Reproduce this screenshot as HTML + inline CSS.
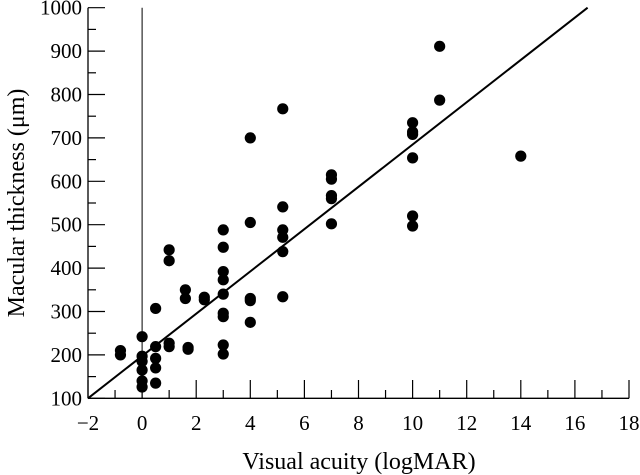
<!DOCTYPE html>
<html><head><meta charset="utf-8"><style>
html,body{margin:0;padding:0;background:#fff;}
svg{display:block;font-family:"Liberation Serif",serif;}
</style></head><body>
<svg id="chart" width="640" height="475"></svg>
<script>
const xVals=[-0.8,-0.8,0,0,0,0,0,0,0.5,0.5,0.5,0.5,0.5,1,1,1,1,1.6,1.6,1.7,1.7,2.3,2.3,3,3,3,3,3,3,3,3,3,4,4,4,4,4,5.2,5.2,5.2,5.2,5.2,5.2,7,7,7,7,7,10,10,10,10,10,10,11,11,14];
const yVals=[210,200,242,197,185,165,140,126,307,219,192,170,135,442,417,227,219,350,330,217,213,333,327,488,448,392,373,340,296,288,223,202,700,505,330,325,275,767,541,488,471,438,334,615,605,567,560,502,735,714,708,654,520,497,911,787,658];
const xTicks=[-2,0,2,4,6,8,10,12,14,16,18];
const yTicks=[100,200,300,400,500,600,700,800,900,1000];
const fitLine=[[-2,100],[16.47,1000]];
const NS="http://www.w3.org/2000/svg";
const svg=document.getElementById('chart');
const X=v=>88+27.05*(v+2);
const Y=v=>398.3-0.434*(v-100);
function mk(t,a,p){const e=document.createElementNS(NS,t);for(const k in a)e.setAttribute(k,a[k]);(p||svg).appendChild(e);return e;}
let e;
e=mk('line',{x1:88,y1:Y(1000),x2:88,y2:398.3,stroke:'#000','stroke-width':1.3});


e=mk('line',{x1:88,y1:398.3,x2:X(18),y2:398.3,stroke:'#000','stroke-width':1.3});


e=mk('line',{x1:X(0),y1:Y(1000),x2:X(0),y2:398.3,stroke:'#000','stroke-width':1});


for(let i=0;i<yTicks.length;i++){
  const v=yTicks[i];
  e=mk('line',{x1:88,y1:Y(v),x2:105,y2:Y(v),stroke:'#000','stroke-width':1.2});
  
  
  if(i<yTicks.length-1){
    e=mk('line',{x1:88,y1:Y(v+50),x2:96,y2:Y(v+50),stroke:'#000','stroke-width':1.2});
    
    
  }
  e=mk('text',{x:82,y:Y(v)+7,'text-anchor':'end','font-size':21});
  e.textContent=v;
  
  
}
for(let i=0;i<xTicks.length;i++){
  const v=xTicks[i];
  e=mk('line',{x1:X(v),y1:398.3,x2:X(v),y2:380,stroke:'#000','stroke-width':1.2});
  
  
  if(i<xTicks.length-1){
    e=mk('line',{x1:X(v+1),y1:398.3,x2:X(v+1),y2:390,stroke:'#000','stroke-width':1.2});
    
    
  }
  e=mk('text',{x:X(v),y:430,'text-anchor':'middle','font-size':21});
  e.textContent=(v<0?'\u2212'+(-v):v);
  
  
}
e=mk('line',{x1:X(fitLine[0][0]),y1:Y(fitLine[0][1]),x2:X(fitLine[1][0]),y2:Y(fitLine[1][1]),stroke:'#000','stroke-width':2});


for(let i=0;i<xVals.length;i++){
  e=mk('circle',{cx:X(xVals[i]),cy:Y(yVals[i]),r:5.6,fill:'#000'});
  
  
}
e=mk('text',{x:359,y:469,'text-anchor':'middle','font-size':24});
e.textContent='Visual acuity (logMAR)';


e=mk('text',{x:0,y:0,'text-anchor':'middle','font-size':24,transform:'translate(24,203) rotate(-90)'});
e.textContent='Macular thickness (\u03bcm)';


</script>
</body></html>
